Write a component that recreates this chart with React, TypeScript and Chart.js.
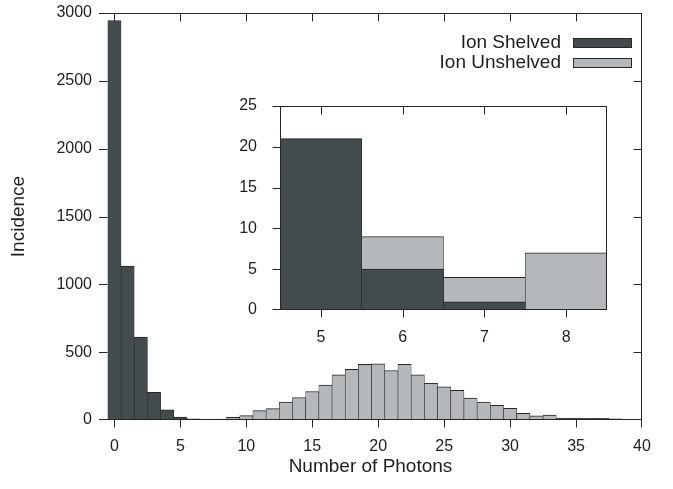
import React, { useEffect, useRef } from "react";
import { Chart, registerables } from "chart.js";

Chart.register(...registerables);

// ---------- data ----------
const seriesLabels = ["Ion Shelved", "Ion Unshelved"];
const shelvedBins = [0, 1, 2, 3, 4, 5, 6, 7];
const shelvedCounts = [2945, 1134, 611, 204, 75, 21, 5, 1];
const unshelvedBins = [
  5, 6, 7, 8, 9, 10, 11, 12, 13, 14, 15, 16, 17, 18, 19, 20, 21, 22, 23, 24,
  25, 26, 27, 28, 29, 30, 31, 32, 33, 34, 35, 36, 37, 38,
];
const unshelvedCounts = [
  2, 9, 4, 7, 20, 32, 69, 84, 133, 166, 210, 257, 333, 373, 410, 414, 365,
  410, 333, 271, 244, 219, 162, 133, 108, 86, 49, 30, 37, 15, 15, 12, 12, 9,
];
const xTickValues = [0, 5, 10, 15, 20, 25, 30, 35, 40];
const yTickValues = [0, 500, 1000, 1500, 2000, 2500, 3000];
const insetXTickValues = [5, 6, 7, 8];
const insetYTickValues = [0, 5, 10, 15, 20, 25];
const xTitle = "Number of Photons";
const yTitle = "Incidence";

// ---------- style ----------
const DARK = "#434b4c";
const LIGHT = "#b4b8bb";
const EDGE = "#262626";
const TEXT = "#1e1e1e";
const FONT = "'Liberation Sans', Arial, Helvetica, sans-serif";

type Side = "in" | "out" | "none";

const framePlugin = {
  id: "frame",
  afterDatasetsDraw(chart: any, _args: any, opts: any) {
    const { ctx, chartArea: a, scales } = chart;
    const L = Math.round(a.left) + 0.5;
    const R = Math.round(a.right) - 0.5;
    const T = Math.round(a.top) + 0.5;
    const B = Math.round(a.bottom) - 0.5;
    const len = opts.len || 8;
    ctx.save();
    ctx.strokeStyle = EDGE;
    ctx.lineWidth = 1;
    const line = (x1: number, y1: number, x2: number, y2: number) => {
      ctx.beginPath();
      ctx.moveTo(x1, y1);
      ctx.lineTo(x2, y2);
      ctx.stroke();
    };
    if (opts.sides.top) line(L - 0.5, T, R + 0.5, T);
    if (opts.sides.bottom) line(L - 0.5, B, R + 0.5, B);
    if (opts.sides.left) line(L, T, L, B);
    if (opts.sides.right) line(R, T - 0.5, R, B + 0.5);
    const xs = scales.x;
    const ys = scales.y;
    const tk = opts.ticks as { top: Side; bottom: Side; left: Side; right: Side };
    xs.ticks.forEach((t: any) => {
      const px = Math.min(R, Math.max(L, Math.round(xs.getPixelForValue(t.value)) + 0.5));
      if (tk.top === "in") line(px, T, px, T + len);
      if (tk.top === "out") line(px, T, px, T - len);
      if (tk.bottom === "in") line(px, B, px, B - len);
      if (tk.bottom === "out") line(px, B, px, B + len);
    });
    ys.ticks.forEach((t: any) => {
      const py = Math.min(B, Math.max(T, Math.round(ys.getPixelForValue(t.value)) + 0.5));
      if (tk.left === "in") line(L - 0.5, py, L + len, py);
      if (tk.left === "out") line(L + 0.5, py, L - len, py);
      if (tk.right === "in") line(R + 0.5, py, R - len, py);
      if (tk.right === "out") line(R, py, R + len, py);
    });
    ctx.restore();
  },
};

const decorPlugin = {
  id: "decor",
  afterDraw(chart: any, _args: any, opts: any) {
    if (!opts.enabled) return;
    const { ctx, chartArea: a } = chart;
    ctx.save();
    ctx.fillStyle = TEXT;
    // axis titles
    ctx.font = `${opts.titleSize}px ${FONT}`;
    ctx.textAlign = "center";
    ctx.textBaseline = "middle";
    ctx.fillText(xTitle, (a.left + a.right) / 2, a.bottom + opts.xTitleOffset);
    ctx.save();
    ctx.translate(opts.yTitleX, (a.top + a.bottom) / 2);
    ctx.rotate(-Math.PI / 2);
    ctx.fillText(yTitle, 0, 0);
    ctx.restore();
    // legend
    ctx.font = `${opts.legendSize}px ${FONT}`;
    ctx.textAlign = "right";
    chart.data.datasets.forEach((ds: any, i: number) => {
      const cy = opts.legendY + i * opts.legendGap;
      ctx.fillStyle = TEXT;
      ctx.fillText(ds.label, opts.legendTextRight, cy);
      ctx.fillStyle = ds.backgroundColor;
      ctx.fillRect(opts.swatchLeft, cy - 5, opts.swatchWidth, 10);
      ctx.strokeStyle = EDGE;
      ctx.lineWidth = 1;
      ctx.strokeRect(opts.swatchLeft + 0.5, cy - 5 + 0.5, opts.swatchWidth - 1, 9);
    });
    ctx.restore();
  },
};

function barDataset(label: string, bins: number[], counts: number[], color: string) {
  return {
    label,
    data: bins.map((x, i) => ({ x, y: counts[i] })),
    backgroundColor: color,
    borderColor: EDGE,
    borderWidth: { top: 1, left: 0.6, right: 0.6, bottom: 0 },
    borderSkipped: false,
    grouped: false,
    barPercentage: 1,
    categoryPercentage: 1,
  };
}

function setTicks(values: number[]) {
  return (scale: any) => {
    scale.ticks = values.map((v) => ({ value: v }));
  };
}

function fixSize(prop: "width" | "height", size: number) {
  return (s: any) => {
    s[prop] = size;
    s.paddingTop = 0;
    s.paddingBottom = 0;
    s.paddingLeft = 0;
    s.paddingRight = 0;
  };
}

const plain = (v: any) => String(v);

export default function App() {
  const mainRef = useRef<HTMLCanvasElement>(null);
  const insetRef = useRef<HTMLCanvasElement>(null);

  useEffect(() => {
    const tickFont = { family: FONT, size: 16 };
    const main = new Chart(mainRef.current as HTMLCanvasElement, {
      type: "bar",
      data: {
        datasets: [
          barDataset(seriesLabels[0], shelvedBins, shelvedCounts, DARK),
          barDataset(seriesLabels[1], unshelvedBins, unshelvedCounts, LIGHT),
        ] as any,
      },
      options: {
        responsive: false,
        animation: false,
        devicePixelRatio: 1,
        layout: { padding: { left: 0, top: 13, right: 31, bottom: 0 } },
        plugins: {
          legend: { display: false },
          tooltip: { enabled: false },
          frame: {
            len: 8,
            sides: { top: true, bottom: true, left: false, right: true },
            ticks: { top: "in", bottom: "out", left: "in", right: "in" },
          },
          decor: {
            enabled: true,
            titleSize: 19,
            xTitleOffset: 47,
            yTitleX: 19,
            legendSize: 19,
            legendY: 43,
            legendGap: 20,
            legendTextRight: 561,
            swatchLeft: 573,
            swatchWidth: 59,
          },
        } as any,
        scales: {
          x: {
            type: "linear",
            min: -1.17,
            max: 40,
            offset: false,
            afterBuildTicks: setTicks(xTickValues),
            afterFit: fixSize("height", 69),
            grid: { display: false, drawTicks: false },
            border: { display: false },
            ticks: { font: tickFont, color: TEXT, padding: 17, maxRotation: 0, autoSkip: false, callback: plain },
          },
          y: {
            type: "linear",
            min: 0,
            max: 3000,
            afterBuildTicks: setTicks(yTickValues),
            afterFit: fixSize("width", 99),
            grid: { display: false, drawTicks: false },
            border: { display: false },
            ticks: { font: tickFont, color: TEXT, padding: 7, callback: plain },
          },
        },
      },
      plugins: [framePlugin, decorPlugin],
    });

    const inBins = (bins: number[], counts: number[]) => {
      const b: number[] = [];
      const c: number[] = [];
      bins.forEach((x, i) => {
        if (x >= 5 && x <= 8) {
          b.push(x);
          c.push(counts[i]);
        }
      });
      return [b, c] as const;
    };
    const [sb, sc] = inBins(shelvedBins, shelvedCounts);
    const [ub, uc] = inBins(unshelvedBins, unshelvedCounts);

    const inset = new Chart(insetRef.current as HTMLCanvasElement, {
      type: "bar",
      data: {
        datasets: [
          barDataset(seriesLabels[0], sb, sc, DARK),
          barDataset(seriesLabels[1], ub, uc, LIGHT),
        ] as any,
      },
      options: {
        responsive: false,
        animation: false,
        devicePixelRatio: 1,
        layout: { padding: { left: 0, top: 14, right: 13, bottom: 0 } },
        plugins: {
          legend: { display: false },
          tooltip: { enabled: false },
          frame: {
            len: 8,
            sides: { top: true, bottom: true, left: true, right: true },
            ticks: { top: "in", bottom: "out", left: "out", right: "none" },
          },
          decor: { enabled: false },
        } as any,
        scales: {
          x: {
            type: "linear",
            min: 4.5,
            max: 8.5,
            offset: false,
            afterBuildTicks: setTicks(insetXTickValues),
            afterFit: fixSize("height", 32),
            grid: { display: false, drawTicks: false },
            border: { display: false },
            ticks: { font: tickFont, color: TEXT, padding: 18, maxRotation: 0, autoSkip: false, callback: plain },
          },
          y: {
            type: "linear",
            min: 0,
            max: 25,
            afterBuildTicks: setTicks(insetYTickValues),
            afterFit: fixSize("width", 60),
            grid: { display: false, drawTicks: false },
            border: { display: false },
            ticks: { font: tickFont, color: TEXT, padding: 23, callback: plain },
          },
        },
      },
      plugins: [framePlugin],
    });

    return () => {
      main.destroy();
      inset.destroy();
    };
  }, []);

  return (
    <div style={{ position: "fixed", left: 0, top: 0, width: 673, height: 489, background: "#fff" }}>
      <canvas ref={mainRef} width={673} height={489} style={{ position: "absolute", left: 0, top: 0 }} />
      <canvas ref={insetRef} width={400} height={250} style={{ position: "absolute", left: 220, top: 92 }} />
    </div>
  );
}
